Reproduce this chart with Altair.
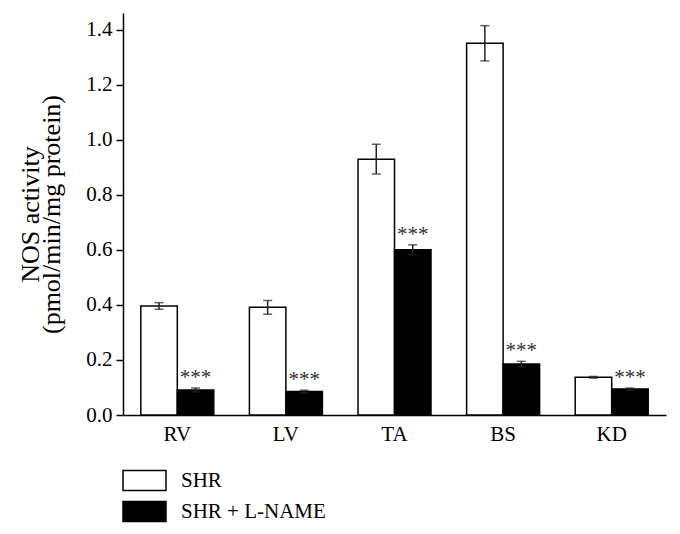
import altair as alt
import pandas as pd

tissues = ["RV", "LV", "TA", "BS", "KD"]
groups = ["SHR", "SHR + L-NAME"]
shr_mean = [0.396, 0.391, 0.929, 1.350, 0.137]
shr_err = [0.012, 0.025, 0.054, 0.064, 0.003]
lname_mean = [0.091, 0.085, 0.600, 0.185, 0.094]
lname_err = [0.007, 0.005, 0.018, 0.010, 0.004]
lname_sig = ["***", "***", "***", "***", "***"]
y_ticks = [round(i * 0.1, 1) for i in range(15)]

rows = []
for i, t in enumerate(tissues):
    rows.append({"tissue": t, "group": groups[0], "mean": shr_mean[i],
                 "lo": shr_mean[i] - shr_err[i], "hi": shr_mean[i] + shr_err[i], "sig": ""})
    rows.append({"tissue": t, "group": groups[1], "mean": lname_mean[i],
                 "lo": lname_mean[i] - lname_err[i], "hi": lname_mean[i] + lname_err[i], "sig": lname_sig[i]})
df = pd.DataFrame(rows)

FONT = "Liberation Serif"
FS = 21

x = alt.X("tissue:N", sort=tissues, title=None,
          scale=alt.Scale(paddingInner=0.328, paddingOuter=0.164),
          axis=alt.Axis(labelAngle=0, ticks=False, labelPadding=8))
xo = alt.XOffset("group:N", sort=groups, scale=alt.Scale(paddingInner=0, paddingOuter=0))
yscale = alt.Scale(domain=[0, 1.46], nice=False, zero=True)

base = alt.Chart(df)

bars = base.mark_bar(stroke="black", strokeWidth=1.5).encode(
    x=x, xOffset=xo,
    y=alt.Y("mean:Q", scale=yscale,
            title=["NOS activity", "(pmol/min/mg protein)"],
            axis=alt.Axis(values=y_ticks,
                          labelExpr="round(datum.value*10) % 2 === 0 ? format(datum.value, '.1f') : ''",
                          tickSize={"condition": {"test": "round(datum.value*10) % 2 === 0", "value": 7}, "value": 4},
                          labelPadding=4, titlePadding=21,
                          titleFontSize=26, titleLineHeight=21)),
    fill=alt.Fill("group:N", sort=groups,
                  scale=alt.Scale(domain=groups, range=["white", "black"]),
                  legend=alt.Legend(title=None, orient="none", legendX=-1, legendY=452,
                                    symbolType="M-1,-0.465H1V0.465H-1Z", symbolSize=1849,
                                    symbolStrokeColor="black", symbolStrokeWidth=1.5,
                                    labelFont=FONT, labelFontSize=FS, labelColor="black",
                                    labelOffset=14, clipHeight=31, rowPadding=0)),
)

err = base.mark_rule(color="#222", strokeWidth=1.5).encode(
    x=x, xOffset=xo, y=alt.Y("lo:Q", scale=yscale), y2="hi:Q")
cap_hi = base.mark_tick(color="#222", thickness=1.5, size=9).encode(
    x=x, xOffset=xo, y=alt.Y("hi:Q", scale=yscale))
cap_lo = base.mark_tick(color="#222", thickness=1.5, size=9).encode(
    x=x, xOffset=xo, y=alt.Y("lo:Q", scale=yscale))

stars = base.transform_filter(alt.datum.sig != "").mark_text(
    font=FONT, fontSize=FS, color="#333", baseline="alphabetic", dy=-4
).encode(x=x, xOffset=xo, y=alt.Y("hi:Q", scale=yscale), text="sig:N")

chart = alt.layer(bars, err, cap_hi, cap_lo, stars).properties(
    width=543, height=402,
    autosize=alt.AutoSizeParams(type="none"),
    padding={"left": 115, "top": 5, "right": 6, "bottom": 110},
).configure_view(stroke=None).configure_axis(
    domainColor="black", domainWidth=1.5, tickColor="black", tickWidth=1.5,
    labelFont=FONT, labelFontSize=FS, labelColor="black",
    titleFont=FONT, titleFontSize=FS, titleFontWeight="normal", titleColor="black",
    grid=False,
)

chart.save("out.html", embed_options={"renderer": "svg", "actions": False})
